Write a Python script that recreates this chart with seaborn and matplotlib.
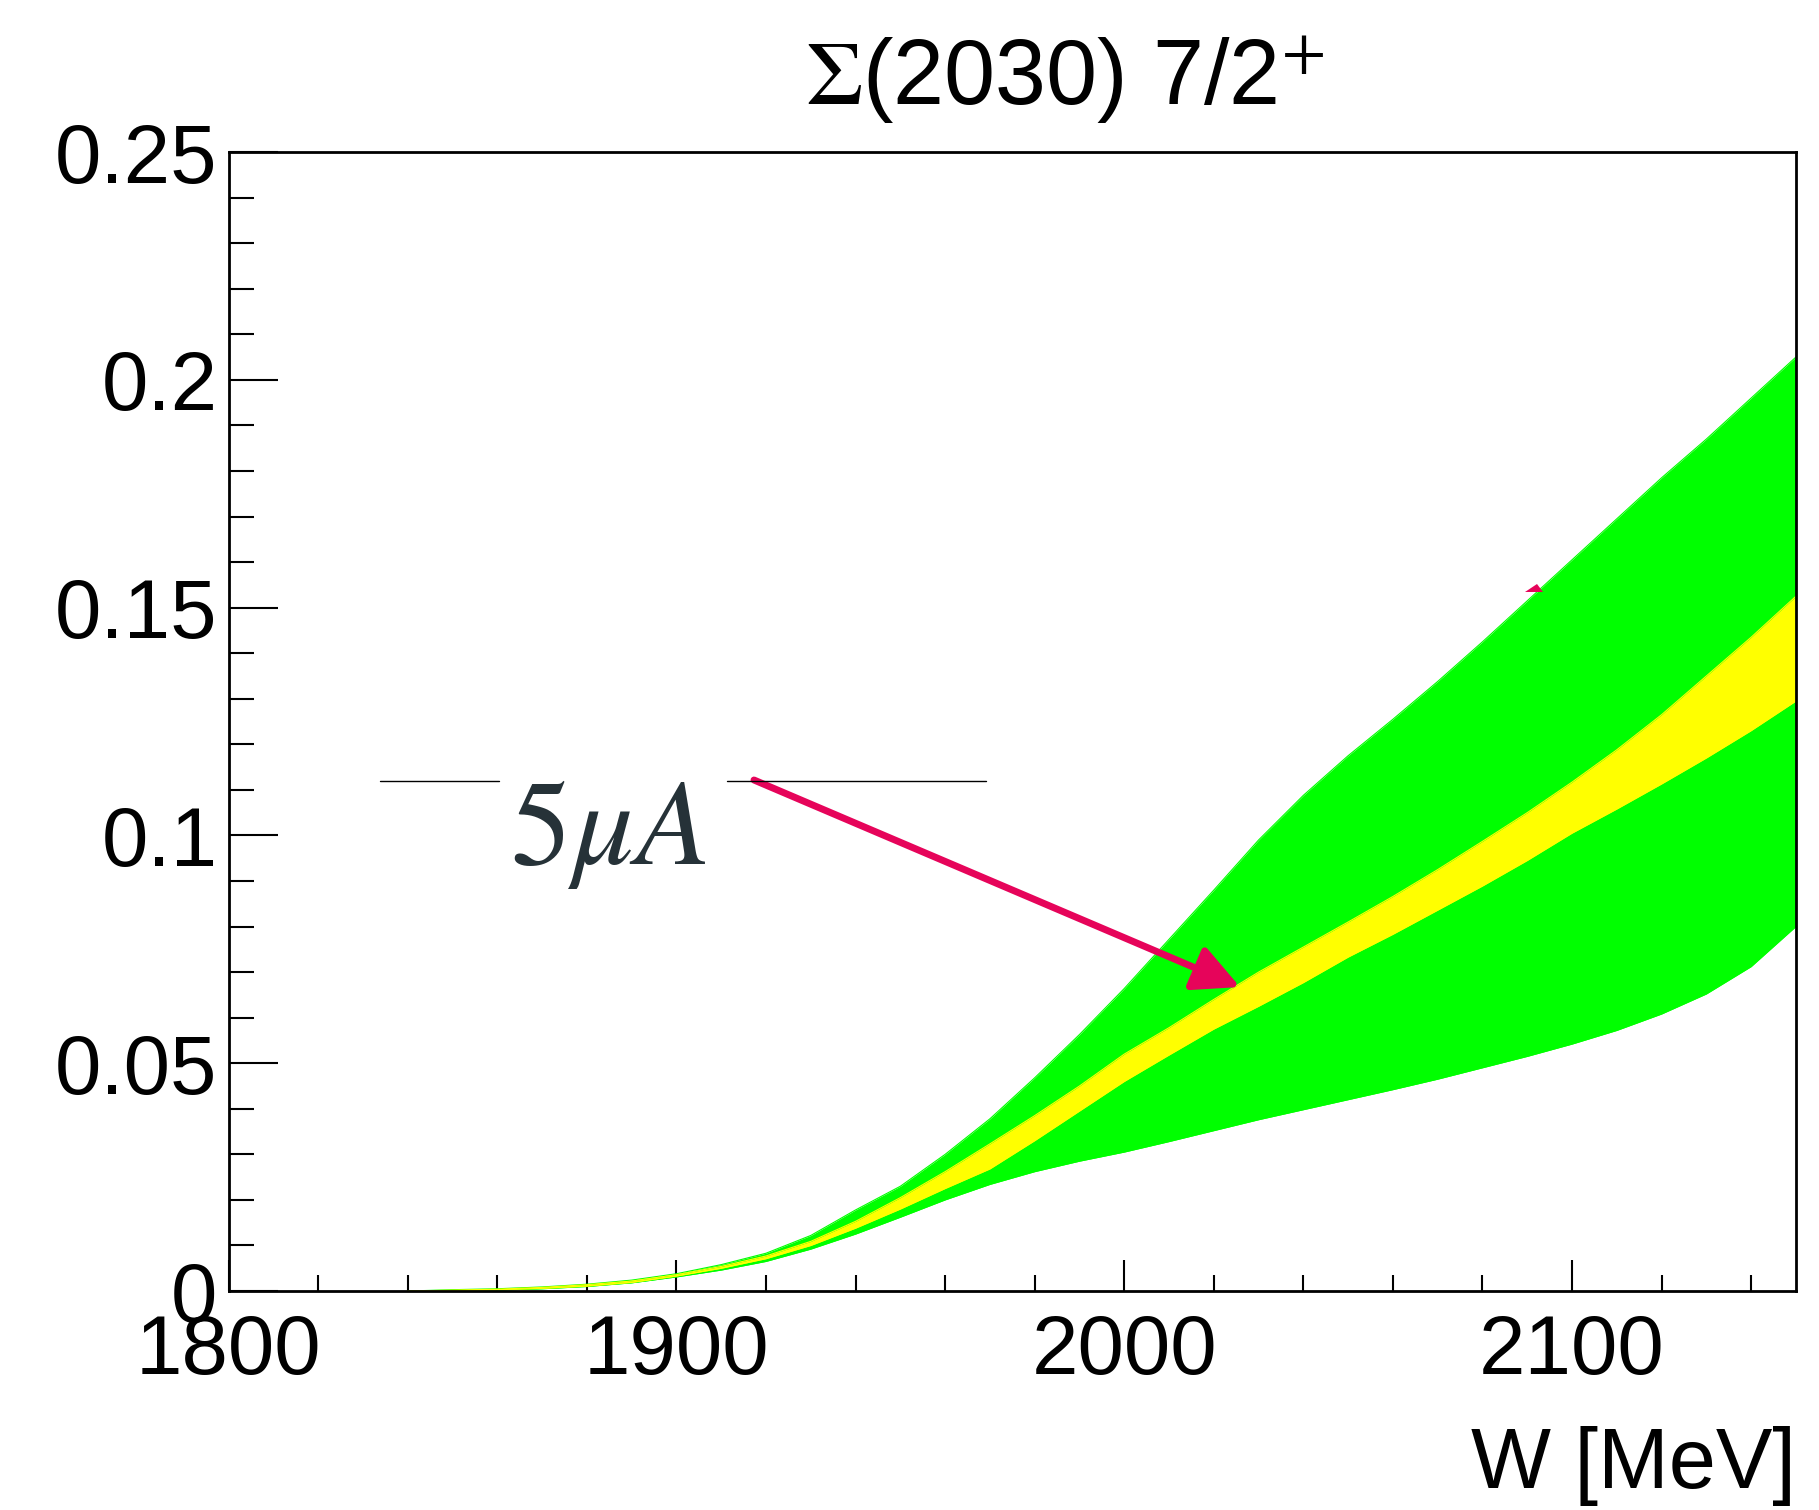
import numpy as np
import pandas as pd
import matplotlib
matplotlib.use("Agg")
import matplotlib.pyplot as plt
import seaborn as sns
from matplotlib.lines import Line2D
from matplotlib.patches import Polygon
from matplotlib.ticker import MultipleLocator, FixedLocator

# ---------------- data ----------------
W = [1840, 1850, 1860, 1870, 1880, 1890, 1900, 1910, 1920, 1930, 1940, 1950,
     1960, 1970, 1980, 1990, 2000, 2010, 2020, 2030, 2040, 2050, 2060, 2070,
     2080, 2090, 2100, 2110, 2120, 2130, 2140, 2150]

green_upper = [0.0, 0.0003, 0.0005, 0.0009, 0.0015, 0.0024, 0.0038, 0.0058,
               0.0083, 0.0122, 0.0178, 0.0230, 0.0300, 0.0378, 0.0468, 0.0563,
               0.0664, 0.0772, 0.0880, 0.0990, 0.1088, 0.1175, 0.1255, 0.1338,
               0.1425, 0.1515, 0.1605, 0.1695, 0.1785, 0.1870, 0.1960, 0.2050]
green_lower = [0.0, 0.0001, 0.0002, 0.0005, 0.0010, 0.0018, 0.0031, 0.0046,
               0.0065, 0.0092, 0.0125, 0.0162, 0.0200, 0.0234, 0.0262, 0.0285,
               0.0305, 0.0328, 0.0352, 0.0376, 0.0398, 0.0420, 0.0442, 0.0465,
               0.0490, 0.0515, 0.0542, 0.0572, 0.0608, 0.0652, 0.0712, 0.0800]
yellow_upper = [0.0, 0.0002, 0.0004, 0.0008, 0.0014, 0.0022, 0.0036, 0.0054,
                0.0077, 0.0109, 0.0153, 0.0205, 0.0262, 0.0323, 0.0385, 0.0450,
                0.0520, 0.0578, 0.0640, 0.0700, 0.0755, 0.0810, 0.0866, 0.0925,
                0.0987, 0.1050, 0.1117, 0.1188, 0.1265, 0.1350, 0.1435, 0.1525]
yellow_lower = [0.0, 0.0001, 0.0003, 0.0006, 0.0011, 0.0019, 0.0033, 0.0050,
                0.0071, 0.0100, 0.0138, 0.0180, 0.0225, 0.0268, 0.0330, 0.0395,
                0.0460, 0.0518, 0.0575, 0.0625, 0.0677, 0.0733, 0.0783, 0.0836,
                0.0889, 0.0945, 0.1005, 0.1058, 0.1113, 0.1170, 0.1230, 0.1295]

x_ticks = [1800, 1900, 2000, 2100]
x_ticklabels = ["1800", "1900", "2000", "2100"]
y_ticks = [0, 0.05, 0.1, 0.15, 0.2, 0.25]
y_ticklabels = ["0", "0.05", "0.1", "0.15", "0.2", "0.25"]

title_text = r"$\Sigma$(2030) 7/2$^{+}$"
xlabel_text = "W [MeV]"
note_text = r"$5\mu A$"

df = pd.DataFrame({"W": W, "gu": green_upper, "gl": green_lower,
                   "yu": yellow_upper, "yl": yellow_lower})

# ---------------- style ----------------
sns.set_theme(style="white")
plt.rcParams["font.family"] = ["Liberation Sans", "DejaVu Sans"]

GREEN = "#00FF00"
YELLOW = "#FFFF00"
RED = "#E6045A"

fig = plt.figure(figsize=(18.19, 15.10), dpi=100)
ax = fig.add_axes([0.1257, 0.145, 0.8616, 0.7543])

ax.fill_between(df["W"], df["gl"], df["gu"], color=GREEN, lw=0, zorder=1)
ax.fill_between(df["W"], df["yl"], df["yu"], color=YELLOW, lw=0, zorder=2)
for col, c, z in [("gu", GREEN, 1), ("gl", GREEN, 1), ("yu", YELLOW, 2), ("yl", YELLOW, 2)]:
    sns.lineplot(data=df, x="W", y=col, color=c, lw=0.8, ax=ax, zorder=z)

ax.set_xlim(1800, 2150)
ax.set_ylim(0, 0.25)
ax.set_xlabel("")
ax.set_ylabel("")

ax.xaxis.set_major_locator(FixedLocator(x_ticks))
ax.set_xticklabels(x_ticklabels)
ax.xaxis.set_minor_locator(MultipleLocator(20))
ax.yaxis.set_major_locator(FixedLocator(y_ticks))
ax.set_yticklabels(y_ticklabels)
ax.yaxis.set_minor_locator(MultipleLocator(0.01))

ax.tick_params(axis="x", which="major", direction="in", length=22, width=1.5,
               color="black", labelcolor="black", labelsize=60, pad=16,
               top=False, bottom=True)
ax.tick_params(axis="x", which="minor", direction="in", length=11.5, width=1.5,
               color="black", top=False, bottom=True)
ax.tick_params(axis="y", which="major", direction="in", length=35, width=1.5,
               color="black", labelcolor="black", labelsize=60, pad=8,
               left=True, right=False)
ax.tick_params(axis="y", which="minor", direction="in", length=18, width=1.5,
               color="black", left=True, right=False)
for s in ax.spines.values():
    s.set_visible(True)
    s.set_color("black")
    s.set_linewidth(2.0)
    s.set_zorder(5)

# title and axis label
fig.text(0.5855, 0.931, title_text, fontsize=66, ha="center", va="baseline",
         color="black", math_fontfamily="stix")
fig.text(0.9873, 0.0146, xlabel_text, fontsize=61, ha="right", va="baseline",
         color="black")

# annotation
fig.text(0.2804, 0.4278, note_text, fontsize=88, ha="left", va="baseline",
         color="#263238", math_fontfamily="stix")
fig.add_artist(Line2D([380 / 1819, 499 / 1819], [0.4828, 0.4828],
                      transform=fig.transFigure, color="black", lw=1.0))
fig.add_artist(Line2D([727 / 1819, 986 / 1819], [0.4828, 0.4828],
                      transform=fig.transFigure, color="black", lw=1.0))

ax.annotate("", xy=(1240 / 1819, 1 - 987 / 1510), xycoords="figure fraction",
            xytext=(754 / 1819, 1 - 780 / 1510), textcoords="figure fraction",
            arrowprops=dict(arrowstyle="-|>,head_length=2.8,head_width=1.4",
                            mutation_scale=10, color=RED, lw=5,
                            shrinkA=0, shrinkB=0), zorder=10)

tri = np.array([[1525, 592], [1543, 592], [1537, 584]], dtype=float)
tri[:, 0] /= 1819
tri[:, 1] = 1 - tri[:, 1] / 1510
fig.add_artist(Polygon(tri, closed=True, transform=fig.transFigure,
                       facecolor=RED, edgecolor="none", zorder=10))

fig.savefig("out.png", dpi=100, facecolor="white")
